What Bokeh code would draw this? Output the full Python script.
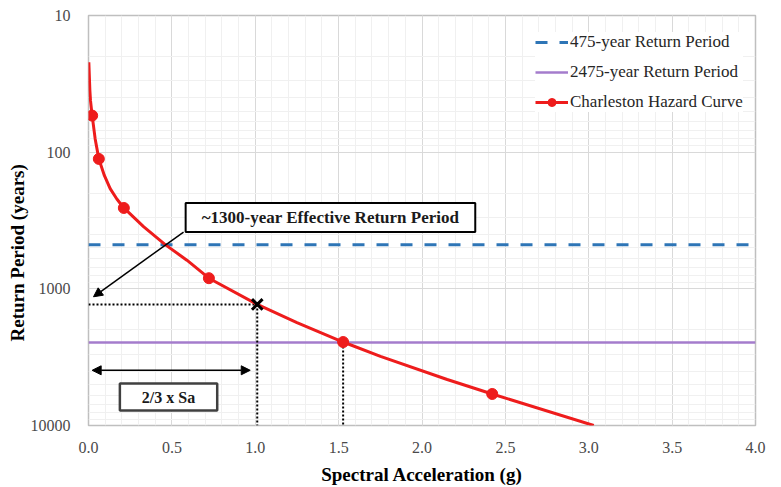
from bokeh.plotting import figure
from bokeh.models import (Range1d, FixedTicker, NumeralTickFormatter, Label, Arrow,
                          NormalHead, Legend, LegendItem, Title)
from bokeh.embed import file_html
from bokeh.resources import INLINE

# ---- data ----
# smooth hazard curve (Spectral acceleration g vs return period years)
sa_curve = [0.002, 0.008, 0.012, 0.022, 0.04, 0.062, 0.095, 0.13, 0.17, 0.212, 0.33,
            0.46, 0.59, 0.722, 1.012, 1.25, 1.527, 1.751, 2.151, 2.421, 3.03]
rp_curve = [22, 35, 42, 54, 80, 112, 148, 185, 220, 256, 351,
            475, 617, 836, 1300, 1766, 2450, 3120, 4610, 5880, 10000]
# hazard curve markers
sa_pts = [0.022, 0.062, 0.212, 0.722, 1.527, 2.421]
rp_pts = [54, 112, 256, 836, 2450, 5880]

rp_475 = 475
rp_2475 = 2475
sa_eff = 1.012          # 2/3 x Sa
rp_eff = 1300           # effective return period
sa_mce = 1.527          # Sa at 2475 yr

x_ticks = [0.0, 0.5, 1.0, 1.5, 2.0, 2.5, 3.0, 3.5, 4.0]
y_ticks = [10, 100, 1000, 10000]

FONT = "Liberation Serif"

p = figure(width=776, height=487, output_backend="svg", toolbar_location=None,
           y_axis_type="log",
           x_range=Range1d(0, 4), y_range=Range1d(10000, 10),
           min_border_left=88, min_border_right=21, min_border_top=15,
           min_border_bottom=61)

p.outline_line_color = "#bfbfbf"
p.outline_line_width = 1.5
p.background_fill_color = "white"

# ticks / grids
p.xaxis.ticker = FixedTicker(ticks=x_ticks,
                             minor_ticks=[i / 10 for i in range(41)])
p.yaxis.ticker = FixedTicker(ticks=y_ticks,
                             minor_ticks=[m * d for d in (10, 100, 1000) for m in range(2, 10)])
p.xaxis.formatter = NumeralTickFormatter(format="0.0")
p.yaxis.formatter = NumeralTickFormatter(format="0")

for ax in (p.xaxis[0], p.yaxis[0]):
    ax.axis_line_color = None
    ax.major_tick_line_color = None
    ax.minor_tick_line_color = None
    ax.major_label_text_font = FONT
    ax.major_label_text_font_size = "16px"
    ax.major_label_text_color = "#4a4a4a"
    ax.axis_label_text_font = FONT
    ax.axis_label_text_font_size = "19px"
    ax.axis_label_text_font_style = "bold"
    ax.axis_label_text_color = "black"

p.xaxis.axis_label = "Spectral Acceleration (g)"
p.xaxis.major_label_standoff = 10
p.yaxis.major_label_standoff = 12
p.xaxis.axis_label_standoff = 8

p.xgrid.grid_line_color = "#d9d9d9"
p.ygrid.grid_line_color = "#d9d9d9"
p.xgrid.minor_grid_line_color = "#f0f0f0"
p.ygrid.minor_grid_line_color = "#f0f0f0"

# y-axis title (placed lower than frame centre as in the reference)
p.add_layout(Title(text="Return Period (years)", align="left", offset=84,
                   text_font=FONT, text_font_size="19px", text_font_style="bold",
                   text_color="black", standoff=0), "left")

# reference lines
r475 = p.line(x=[0, 4], y=[rp_475, rp_475], line_color="#2e75b6", line_width=3,
              line_dash="12 12")
r2475 = p.line(x=[0, 4], y=[rp_2475, rp_2475], line_color="#a47ccc", line_width=2.5)

# dotted guide lines
p.line(x=[0, sa_eff], y=[rp_eff, rp_eff], line_color="black", line_width=2,
       line_dash="2 2")
p.line(x=[sa_eff, sa_eff], y=[rp_eff, 10000], line_color="black", line_width=2,
       line_dash="2 2")
p.line(x=[sa_mce, sa_mce], y=[rp_2475, 10000], line_color="black", line_width=2,
       line_dash="2 2")

# hazard curve
rc = p.line(x=sa_curve, y=rp_curve, line_color="#ee1c1c", line_width=3)
rm = p.scatter(x=sa_pts, y=rp_pts, size=11, fill_color="#ee1c1c",
               line_color="#ee1c1c")

# effective point
p.scatter(x=[sa_eff], y=[rp_eff], marker="x", size=15, line_width=3,
          line_color="black")

# annotations
lab1 = Label(x=1.451, y=301, text="~1300-year Effective Return Period",
             text_font=FONT, text_font_size="17px", text_font_style="bold",
             text_align="center", text_baseline="middle", text_color="#1a1a1a",
             border_line_color="black", border_line_width=2,
             background_fill_color="white", padding=(16, 5))
p.add_layout(lab1)

p.add_layout(Arrow(end=NormalHead(size=9, fill_color="black", line_color="black"),
                   x_start=0.57, y_start=384, x_end=0.03, y_end=1143,
                   line_color="black", line_width=1.5))

p.add_layout(Arrow(start=NormalHead(size=9, fill_color="black", line_color="black"),
                   end=NormalHead(size=9, fill_color="black", line_color="black"),
                   x_start=0.022, y_start=3945, x_end=0.97, y_end=3945,
                   line_color="black", line_width=1.5))

lab2 = Label(x=0.48, y=6194, text="2/3 x Sa",
             text_font=FONT, text_font_size="16px", text_font_style="bold",
             text_align="center", text_baseline="middle", text_color="#1a1a1a",
             border_line_color="#404040", border_line_width=2.5,
             background_fill_color="white", padding=(22, 5))
p.add_layout(lab2)

legend = Legend(items=[
    LegendItem(label="475-year Return Period", renderers=[r475]),
    LegendItem(label="2475-year Return Period", renderers=[r2475]),
    LegendItem(label="Charleston Hazard Curve", renderers=[rc, rm]),
], location=(447, 313))
legend.label_text_font = FONT
legend.label_text_font_size = "17px"
legend.label_text_color = "#262626"
legend.glyph_width = 33
legend.glyph_height = 20
legend.label_height = 20
legend.spacing = 10
legend.padding = 5
legend.label_standoff = 2
legend.border_line_color = None
legend.background_fill_color = "white"
legend.background_fill_alpha = 1.0
p.add_layout(legend)

open("out.html", "w").write(file_html(p, INLINE))
